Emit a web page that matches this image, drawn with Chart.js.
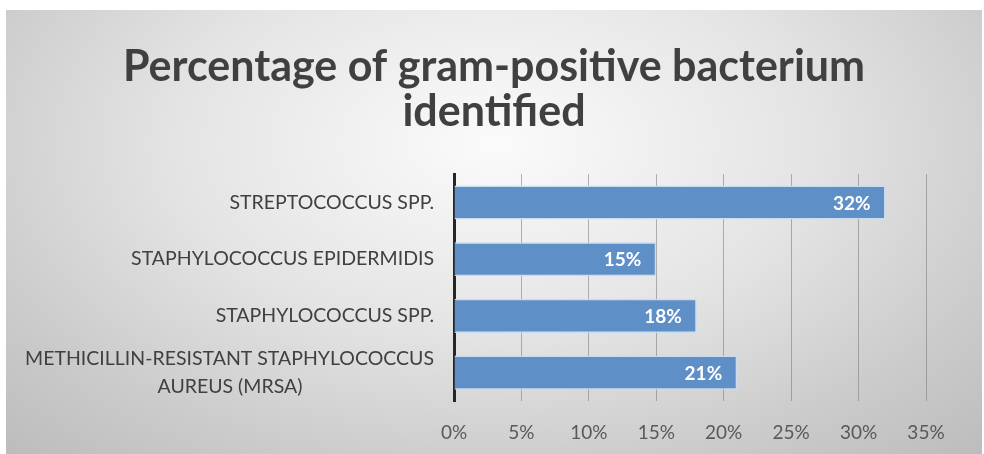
<!DOCTYPE html>
<html lang="en">
<head>
    <meta charset="UTF-8">
    <title>Percentage of gram-positive bacterium identified</title>
    <style>
        body {
            margin: 0;
            background: #ffffff;
        }
        .frame {
            position: absolute;
            left: 6px;
            top: 10px;
            width: 976px;
            height: 444px;
            background: radial-gradient(ellipse 72% 95% at 50% 30%, #fbfbfb 0%, #e4e4e4 45%, #cbcbcb 78%, #bdbdbd 100%);
        }
    </style>
    <script src="https://cdn.jsdelivr.net/npm/chart.js"></script>
</head>
<body>
    <div class="frame">
        <canvas id="bactChart" width="976" height="444"></canvas>
    </div>

    <script>
        // chart data
        const categories = [
            'STREPTOCOCCUS SPP.',
            'STAPHYLOCOCCUS EPIDERMIDIS',
            'STAPHYLOCOCCUS SPP.',
            ['METHICILLIN-RESISTANT STAPHYLOCOCCUS', 'AUREUS (MRSA)']
        ];
        const percentValues = [32, 15, 18, 21];
        const xTicks = [0, 5, 10, 15, 20, 25, 30, 35];

        const labelFont = '19.5px Lato';

        // centre the second line of a wrapped label under the first one
        function padLines(label) {
            if (!Array.isArray(label)) return label;
            const ctx = document.createElement('canvas').getContext('2d');
            ctx.font = labelFont;
            const full = ctx.measureText(label[0]).width;
            let second = label[1];
            const target = (full + ctx.measureText(label[1]).width) / 2;
            while (ctx.measureText(second + '\u200A').width <= target) {
                second += '\u200A';
            }
            return [label[0], second];
        }

        // white value labels inside the end of each bar
        const barValues = {
            id: 'barValues',
            afterDatasetsDraw(chart) {
                const ctx = chart.ctx;
                const meta = chart.getDatasetMeta(0);
                ctx.save();
                ctx.font = 'bold 19px Lato';
                ctx.fillStyle = '#ffffff';
                ctx.textAlign = 'right';
                ctx.textBaseline = 'middle';
                meta.data.forEach((bar, i) => {
                    ctx.fillText(percentValues[i] + '%', bar.x - 15, bar.y + 1);
                });
                ctx.restore();
            }
        };

        new Chart(document.getElementById('bactChart'), {
            type: 'bar',
            data: {
                labels: categories.map(padLines),
                datasets: [{
                    data: percentValues,
                    backgroundColor: '#5f8fc7',
                    borderColor: '#c9dcf0',
                    borderWidth: 1.5,
                    borderSkipped: 'start',
                    categoryPercentage: 1,
                    barPercentage: 0.6
                }]
            },
            options: {
                indexAxis: 'y',
                responsive: false,
                animation: false,
                layout: {
                    padding: 0
                },
                plugins: {
                    legend: { display: false },
                    tooltip: { enabled: false },
                    title: {
                        display: true,
                        text: ['Percentage of gram-positive bacterium', 'identified'],
                        color: '#404040',
                        font: { family: 'Lato', size: 43, weight: 'bold', lineHeight: 1.047 },
                        padding: { top: 34.5, bottom: 39.5 }
                    }
                },
                scales: {
                    x: {
                        min: 0,
                        max: 35,
                        afterBuildTicks: (scale) => {
                            scale.ticks = xTicks.map(v => ({ value: v }));
                        },
                        afterFit: (scale) => { scale.height = 53; },
                        ticks: {
                            callback: (v) => v + '%',
                            color: '#595959',
                            font: { family: 'Lato', size: 19 },
                            padding: 20,
                            maxRotation: 0
                        },
                        grid: {
                            color: 'rgba(120,120,120,0.55)',
                            lineWidth: 1,
                            drawTicks: false
                        },
                        border: { display: false }
                    },
                    y: {
                        afterFit: (scale) => { scale.width = 448; },
                        ticks: {
                            autoSkip: false,
                            color: '#404040',
                            font: { family: 'Lato', size: 19.5, lineHeight: 1.4 },
                            padding: 20
                        },
                        grid: { display: false, drawTicks: false },
                        border: { display: true, color: '#262626', width: 3 }
                    },
                    // empty right-hand strip so the plot stops at 35% like the original
                    yRight: {
                        position: 'right',
                        afterFit: (scale) => { scale.width = 56; },
                        ticks: { display: false },
                        grid: { display: false, drawTicks: false },
                        border: { display: false }
                    }
                }
            },
            plugins: [barValues]
        });
    </script>
</body>
</html>
